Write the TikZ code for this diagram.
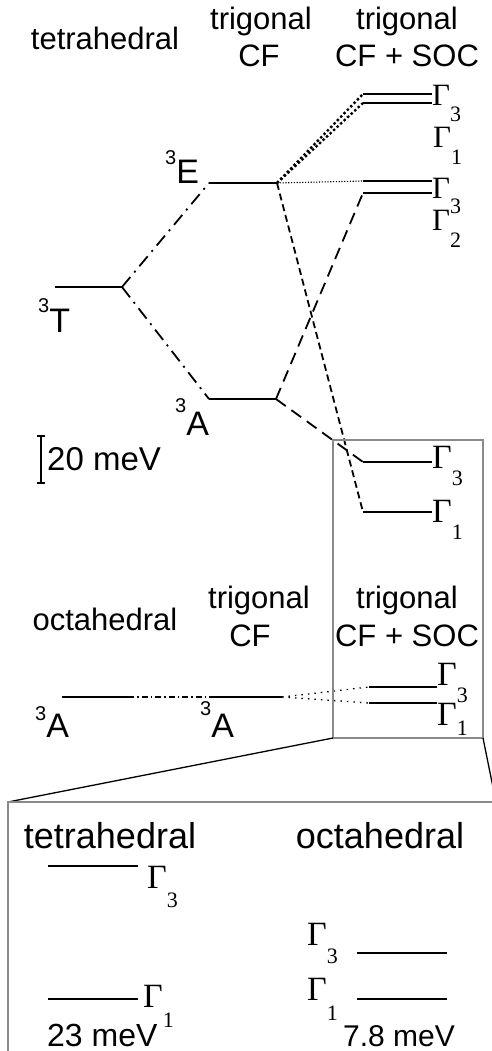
\documentclass[tikz,border=0pt]{standalone}
\usepackage{fontspec}
\setmainfont{Liberation Sans}
\newfontfamily\gamfont{Liberation Serif}
\usepackage{tikz}
\usetikzlibrary{positioning}
\usepackage{xcolor}
\definecolor{boxgray}{HTML}{8A8A8A}
\newcommand\fsz[1]{\fontsize{#1}{#1}\selectfont}
\newcommand\term[2][19pt]{\raisebox{#1}{\fsz{20}3}#2}
\newcommand\glev[2][17pt]{{\gamfont Γ\raisebox{-#1}{\fsz{22}#2}}}
\tikzset{
  lvl/.style={line width=2.4pt},
  dashdot/.style={line width=1.8pt, dash pattern=on 13pt off 6pt on 2pt off 6pt},
  longdash/.style={line width=1.8pt, dash pattern=on 12pt off 7pt},
  shortdash/.style={line width=1.8pt, dash pattern=on 7pt off 4pt},
  thickdot/.style={line width=2.4pt, dash pattern=on 2.4pt off 2.4pt},
  thindot/.style={line width=1.1pt, dash pattern=on 1.2pt off 1.6pt},
  sparsedot/.style={line width=1.3pt, dash pattern=on 1.5pt off 5pt},
  thindashdot/.style={line width=1.3pt, dash pattern=on 6pt off 3pt on 1.5pt off 3pt},
  head/.style={font=\fsz{31}, inner sep=0pt, anchor=base},
  termlab/.style={font=\fsz{34}, inner sep=0pt, anchor=base west},
  gam/.style={font=\fsz{31}, inner sep=0pt, anchor=base west},
  gambig/.style={font=\fsz{34}, inner sep=0pt, anchor=base west},
  zoomline/.style={line width=1.3pt},
  framebox/.style={draw=boxgray, line width=2pt}
}

\begin{document}
\begin{tikzpicture}[x=1pt, y=-1pt]
  \useasboundingbox (0,0) rectangle (492,1051);
  \fill[white] (0,0) rectangle (492,1051);
  \clip (0,0) rectangle (492,1051);

  % tetrahedral
  \node[head] (hTet) at (105,50) {tetrahedral};
  \node[head] (hTrig) at (261,30) {trigonal};
  \node[head] (hCF) at (259,67) {CF};
  \node[head] (hTrigS) at (407,30) {trigonal};
  \node[head] (hCFS) at (407,67) {CF + SOC};

  \coordinate (tTl) at (55,287);  \coordinate (tTr) at (122,287);
  \coordinate (tEl) at (209,183); \coordinate (tEr) at (277,183);
  \coordinate (tAl) at (209,399); \coordinate (tAr) at (276,399);
  \coordinate (s1al) at (363,94);  \coordinate (s1ar) at (432,94);
  \coordinate (s1bl) at (363,103); \coordinate (s1br) at (432,103);
  \coordinate (s2al) at (363,181); \coordinate (s2ar) at (432,181);
  \coordinate (s2bl) at (363,193); \coordinate (s2br) at (432,193);
  \coordinate (s3al) at (363,462); \coordinate (s3ar) at (432,462);
  \coordinate (s3bl) at (363,512); \coordinate (s3br) at (432,512);

  \draw[lvl] (tTl) -- (tTr);
  \draw[lvl] (tEl) -- (tEr);
  \draw[lvl] (tAl) -- (tAr);
  \foreach \a/\b in {s1al/s1ar,s1bl/s1br,s2al/s2ar,s2bl/s2br,s3al/s3ar,s3bl/s3br}
    \draw[lvl] (\a) -- (\b);

  \node[termlab] (lT) at (38,332) {\term[20pt]{T}};
  \node[termlab] (lE) at (165,183) {\term[18pt]{E}};
  \node[termlab] (lA) at (175,435) {\term[23pt]{A}};

  \draw[dashdot] (tTr) -- (tEl);
  \draw[dashdot] (tTr) -- (tAl);
  \draw[thickdot] (tEr) -- (s1al);
  \draw[thickdot] (tEr) -- (s1bl);
  \draw[thindot] (tEr) -- (s2al);
  \draw[shortdash] (tEr) -- (s3bl);
  \draw[longdash] (tAr) -- (s2bl);
  \draw[longdash] (tAr) -- (s3al);

  \node[gam] (g1a) at (432,106) {\glev[16pt]{3}};
  \node[gam] (g1b) at (433,148) {\glev{1}};
  \node[gam] (g2a) at (432,198) {\glev[15pt]{3}};
  \node[gam] (g2b) at (432,230) {\glev{2}};
  \node[gambig] (g3a) at (432,468) {\glev{3}};
  \node[gambig] (g3b) at (432,522) {\glev{1}};

  % scale bar
  \coordinate (barT) at (41,436); \coordinate (barB) at (41,483);
  \draw[line width=1.3pt] (barT) -- (barB);
  \draw[line width=1.3pt] ([xshift=-4pt]barT) -- ([xshift=4pt]barT);
  \draw[line width=1.3pt] ([xshift=-4pt]barB) -- ([xshift=4pt]barB);
  \node[font=\fsz{33}, inner sep=0pt, anchor=base west] (scale) at (47,470) {20 meV};

  % octahedral
  \node[head] (hOct) at (105,630) {octahedral};
  \node[head] (hTrig2) at (259,608) {trigonal};
  \node[head] (hCF2) at (250,646) {CF};
  \node[head] (hTrigS2) at (407,608) {trigonal};
  \node[head] (hCFS2) at (407,646) {CF + SOC};

  \coordinate (oAl) at (62,697);   \coordinate (oAr) at (128,697);
  \coordinate (oBl) at (215,697);  \coordinate (oBr) at (282,697);
  \coordinate (o1al) at (369,687); \coordinate (o1ar) at (437,687);
  \coordinate (o1bl) at (369,703); \coordinate (o1br) at (437,703);

  \draw[lvl] (oAl) -- (oAr);
  \draw[lvl] (oBl) -- (oBr);
  \draw[lvl] (o1al) -- (o1ar);
  \draw[lvl] (o1bl) -- (o1br);
  \draw[thindashdot] (oAr) -- (oBl);
  \draw[sparsedot] (oBr) -- (o1al);
  \draw[sparsedot] (oBr) -- (o1bl);

  \node[termlab] (lA1) at (35,737) {\term[17pt]{A}};
  \node[termlab] (lA2) at (200,737) {\term[22pt]{A}};
  \node[gambig] (go1a) at (437,685) {\glev{3}};
  \node[gambig] (go1b) at (437,725) {\glev[10pt]{1}};

  % zoom frame
  \coordinate (zTL) at (333,440); \coordinate (zBR) at (483,738);
  \draw[framebox] (zTL) rectangle (zBR);
  \coordinate (zBL) at (333,738);
  \coordinate (iTL) at (8,802);
  \coordinate (iTR) at (496,802);
  \draw[zoomline] (zBL) -- (iTL);
  \draw[zoomline] (zBR) -- (iTR);
  \draw[framebox] (8,1060) -- (iTL) -- (500,802);

  % inset
  \node[font=\fsz{36}, inner sep=0pt, anchor=base] (iTet) at (110,848) {tetrahedral};
  \node[font=\fsz{36}, inner sep=0pt, anchor=base] (iOct) at (380,848) {octahedral};
  \coordinate (i3l) at (48,866);   \coordinate (i3r) at (138,866);
  \coordinate (i1l) at (48,999);   \coordinate (i1r) at (138,999);
  \coordinate (j3l) at (357,953);  \coordinate (j3r) at (447,953);
  \coordinate (j1l) at (357,999);  \coordinate (j1r) at (447,999);
  \foreach \a/\b in {i3l/i3r,i1l/i1r,j3l/j3r,j1l/j1r}
    \draw[lvl] (\a) -- (\b);
  \node[gambig] (gi3) at (147,888) {\glev[19pt]{3}};
  \node[gambig] (gi1) at (143,1007) {\glev[20pt]{1}};
  \node[gambig] (gj3) at (307,945) {\glev[18pt]{3}};
  \node[gambig] (gj1) at (307,1000) {\glev[20pt]{1}};
  \node[font=\fsz{32}, inner sep=0pt, text depth=0pt, anchor=base west] (split1) at (47,1046) {23 meV};
  \node[font=\fsz{30}, inner sep=0pt, text depth=0pt, anchor=base west] (split2) at (343,1046) {7.8 meV};
\end{tikzpicture}
\end{document}
